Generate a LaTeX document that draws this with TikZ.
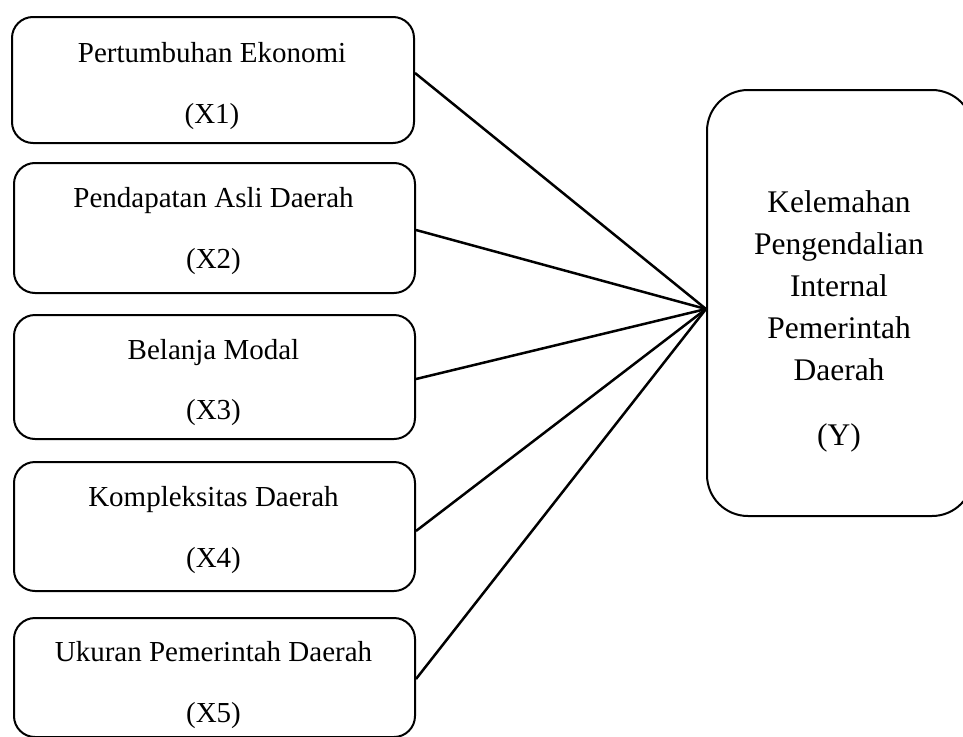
\documentclass[tikz,border=0pt]{standalone}
\usepackage{fontspec}
\setmainfont{Liberation Serif}
\begin{document}
\begin{tikzpicture}[x=1pt,y=-1pt,
  xbox/.style={draw, rounded corners=21pt, line width=2pt, inner sep=0pt, anchor=north west},
  ybox/.style={draw, rounded corners=41pt, line width=2pt, inner sep=0pt, anchor=north west},
  xtxt/.style={anchor=base, inner sep=0pt, font=\fontsize{29}{35}\selectfont},
  ytxt/.style={anchor=base, inner sep=0pt, font=\fontsize{31.5}{38}\selectfont},
  link/.style={line width=2.5pt}]
\useasboundingbox (0,0) rectangle (963,736);

% left boxes
\node[xbox, minimum width=402pt, minimum height=126pt] (x1) at (11,16) {};
\node[xbox, minimum width=401pt, minimum height=130pt] (x2) at (13,162) {};
\node[xbox, minimum width=401pt, minimum height=124pt] (x3) at (13,314) {};
\node[xbox, minimum width=401pt, minimum height=129pt] (x4) at (13,461) {};
\node[xbox, minimum width=401pt, minimum height=119pt] (x5) at (13,617) {};

% right box
\node[ybox, minimum width=266pt, minimum height=426pt] (y) at (706,89) {};

% texts
\node[xtxt] (x1a) at (212,62) {Pertumbuhan Ekonomi};
\node[xtxt] (x1b) at (212,123) {(X1)};
\node[xtxt] (x2a) at (213.5,207) {Pendapatan Asli Daerah};
\node[xtxt] (x2b) at (213.5,268) {(X2)};
\node[xtxt] (x3a) at (213.5,359) {Belanja Modal};
\node[xtxt] (x3b) at (213.5,419) {(X3)};
\node[xtxt] (x4a) at (213.5,506) {Kompleksitas Daerah};
\node[xtxt] (x4b) at (213.5,567) {(X4)};
\node[xtxt] (x5a) at (213.5,661) {Ukuran Pemerintah Daerah};
\node[xtxt] (x5b) at (213.5,722) {(X5)};

\node[ytxt] (ya) at (839,212) {Kelemahan};
\node[ytxt] (yb) at (839,254) {Pengendalian};
\node[ytxt] (yc) at (839,296) {Internal};
\node[ytxt] (yd) at (839,338) {Pemerintah};
\node[ytxt] (ye) at (839,380) {Daerah};
\node[ytxt] (yf) at (839,445) {(Y)};

% connectors
\coordinate (yin) at ([yshift=-6pt]y.west);
\draw[link] ([yshift=7pt]x1.east) -- (yin);
\draw[link] ([yshift=-2pt]x2.east) -- (yin);
\draw[link] ([yshift=-2pt]x3.east) -- (yin);
\draw[link] ([yshift=-4.5pt]x4.east) -- (yin);
\draw[link] ([yshift=-1.5pt]x5.east) -- (yin);
\end{tikzpicture}
\end{document}
